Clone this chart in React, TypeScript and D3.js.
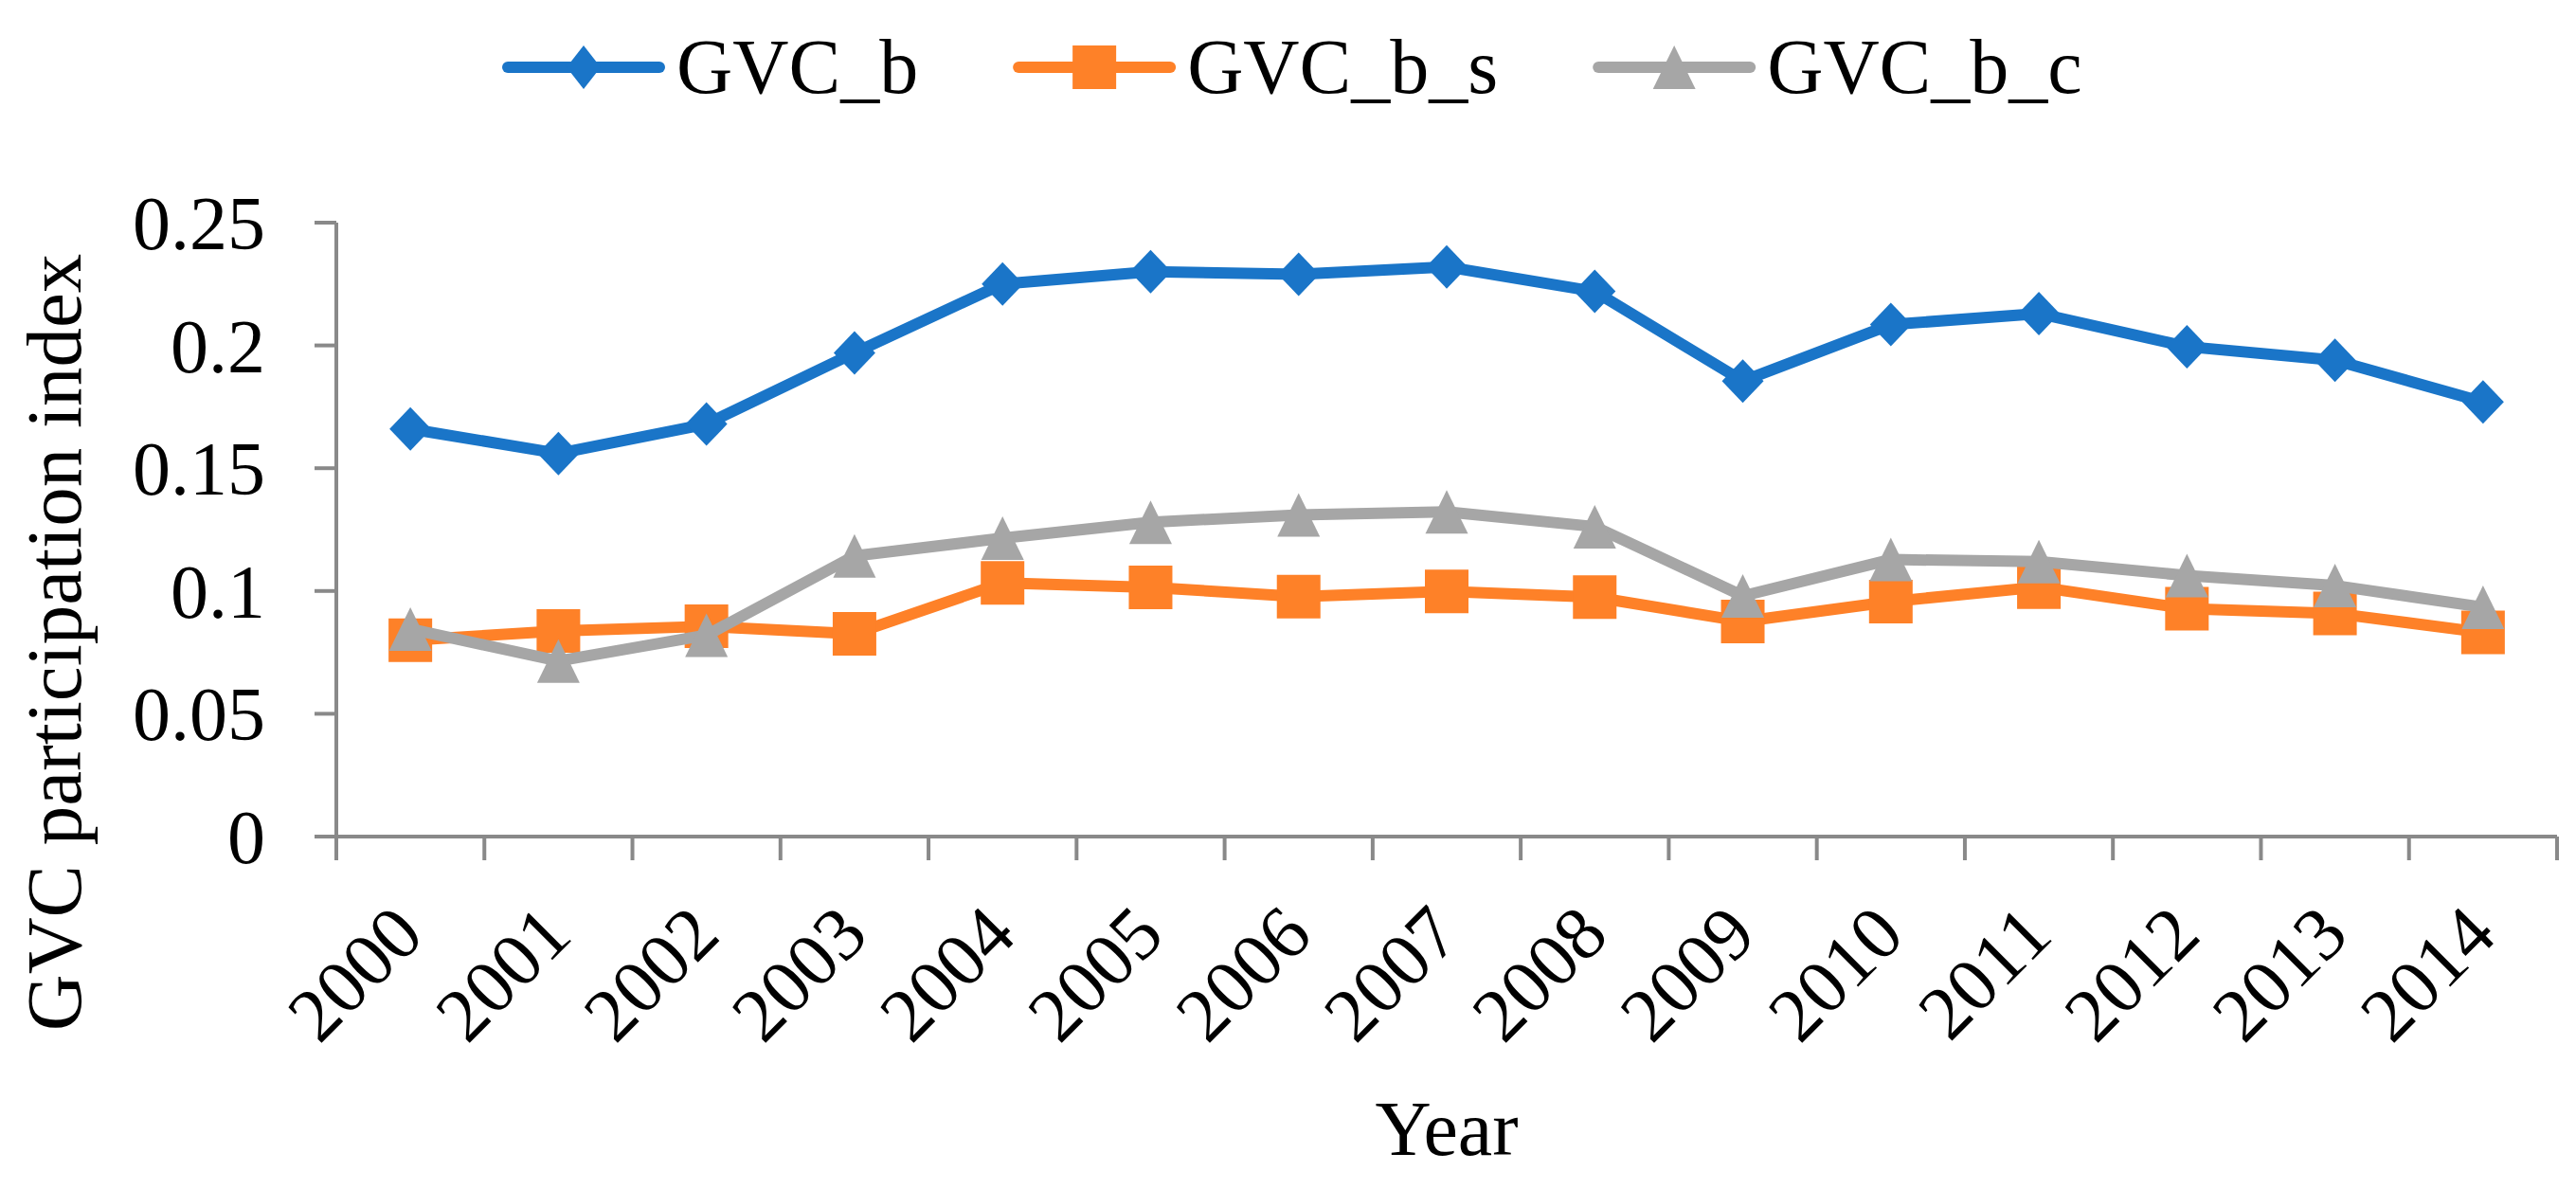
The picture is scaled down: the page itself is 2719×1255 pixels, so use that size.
import React from 'react';
import * as d3 from 'd3';

// values
const years = ['2000', '2001', '2002', '2003', '2004', '2005', '2006', '2007', '2008', '2009', '2010', '2011', '2012', '2013', '2014'];
const gvcB = [0.166, 0.156, 0.168, 0.197, 0.225, 0.230, 0.229, 0.232, 0.222, 0.1855, 0.2085, 0.213, 0.1995, 0.194, 0.177];
const gvcBS = [0.080, 0.0837, 0.0856, 0.0826, 0.1033, 0.1015, 0.0977, 0.0998, 0.0975, 0.0876, 0.0957, 0.1016, 0.0928, 0.0909, 0.0831];
const gvcBC = [0.0845, 0.0715, 0.082, 0.1143, 0.1215, 0.128, 0.131, 0.1322, 0.1262, 0.098, 0.1128, 0.112, 0.1063, 0.1022, 0.0934];
const yTicks = [0, 0.05, 0.1, 0.15, 0.2, 0.25];
const yTickLabels = ['0', '0.05', '0.1', '0.15', '0.2', '0.25'];

const W = 2719;
const H = 1255;
const FONT = '"Liberation Serif", "Times New Roman", serif';
const AXIS = '#898989';

const series = [
  { name: 'GVC_b', values: gvcB, color: '#1a75c8', marker: 'diamond' },
  { name: 'GVC_b_s', values: gvcBS, color: '#fe8128', marker: 'square' },
  { name: 'GVC_b_c', values: gvcBC, color: '#a6a6a6', marker: 'triangle' },
];

const margin = { top: 235, right: 20, bottom: 372, left: 355 };

function markerPath(kind: string, legend = false) {
  if (kind === 'diamond') {
    const w = legend ? 18 : 22;
    return `M0,-23L${w},0L0,23L${-w},0Z`;
  }
  if (kind === 'square') return 'M-23,-23H23V23H-23Z';
  return 'M0,-23L22.5,23L-22.5,23Z';
}

function textWidth(s: string, size: number) {
  const ctx = document.createElement('canvas').getContext('2d');
  if (!ctx) return s.length * size * 0.6;
  ctx.font = `${size}px "Liberation Serif"`;
  return ctx.measureText(s).width;
}

export default function App() {
  const x = d3.scaleBand<string>().domain(years).range([margin.left, W - margin.right]);
  const y = d3.scaleLinear().domain([0, 0.25]).range([H - margin.bottom, margin.top]);
  const x0 = margin.left;
  const x1 = W - margin.right;
  const yBase = y(0);

  const line = d3.line<number>()
    .x((_, i) => x(years[i])! + x.bandwidth() / 2)
    .y(d => y(d));

  // legend layout
  let lx = 530;
  const legendItems = series.map(s => {
    const item = { ...s, x: lx };
    lx += 186 + textWidth(s.name, 82) + 98;
    return item;
  });

  return (
    <svg width={W} height={H} style={{ position: 'fixed', left: 0, top: 0, background: '#fff' }} fontFamily={FONT}>
      <rect width={W} height={H} fill="#fff" />

      {/* y axis */}
      <line x1={x0} x2={x0} y1={y(0.25)} y2={yBase} stroke={AXIS} strokeWidth={4} />
      {yTicks.map((t, i) => (
        <g key={t}>
          <line x1={x0 - 23} x2={x0} y1={y(t)} y2={y(t)} stroke={AXIS} strokeWidth={4} />
          <text x={x0 - 75} y={y(t)} dy="0.35em" textAnchor="end" fontSize={80}>{yTickLabels[i]}</text>
        </g>
      ))}

      {/* x axis */}
      <line x1={x0} x2={x1} y1={yBase} y2={yBase} stroke={AXIS} strokeWidth={4} />
      {[...years.map(d => x(d)!), x1].map((p, i) => (
        <line key={i} x1={p} x2={p} y1={yBase} y2={yBase + 25} stroke={AXIS} strokeWidth={4} />
      ))}
      {years.map(d => {
        const cx = x(d)! + x.bandwidth() / 2 + 17;
        const cy = yBase + 107;
        return (
          <text key={d} x={cx} y={cy} textAnchor="end" fontSize={80} transform={`rotate(-45,${cx},${cy})`}>{d}</text>
        );
      })}

      {/* axis titles */}
      <text x={(x0 + x1) / 2} y={1219} textAnchor="middle" fontSize={82}>Year</text>
      <text transform={`translate(85,678) rotate(-90)`} textAnchor="middle" fontSize={83}>GVC participation index</text>

      {/* series */}
      {series.map(s => (
        <g key={s.name}>
          <path d={line(s.values)!} fill="none" stroke={s.color} strokeWidth={12} strokeLinejoin="round" />
          {s.values.map((v, i) => (
            <path key={i} d={markerPath(s.marker)} fill={s.color}
              transform={`translate(${x(years[i])! + x.bandwidth() / 2},${y(v)})`} />
          ))}
        </g>
      ))}

      {/* legend */}
      {legendItems.map(s => (
        <g key={s.name} transform={`translate(${s.x},71)`}>
          <line x1={6} x2={166} y1={0} y2={0} stroke={s.color} strokeWidth={12} strokeLinecap="round" />
          <path d={markerPath(s.marker, true)} fill={s.color} transform="translate(86,0)" />
          <text x={184} y={27} fontSize={82}>{s.name}</text>
        </g>
      ))}
    </svg>
  );
}
